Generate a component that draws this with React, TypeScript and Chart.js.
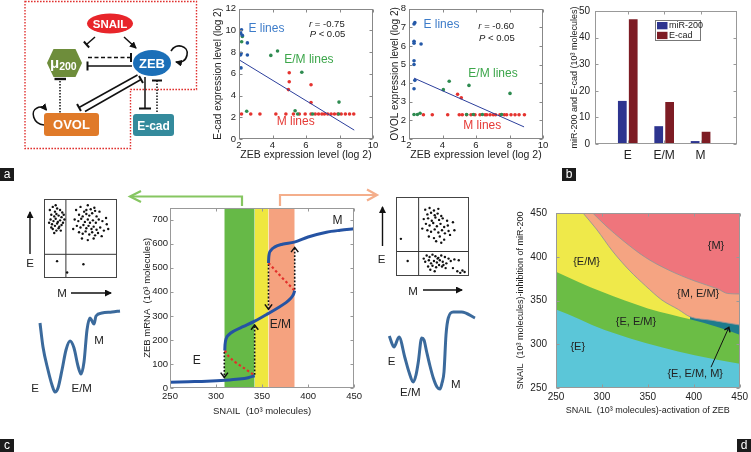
import React, { useEffect, useRef } from 'react';
import { Chart, registerables } from 'chart.js';

Chart.register(...registerables);
const FONT = "'Liberation Sans', Arial, Helvetica, sans-serif";
Chart.defaults.font.family = FONT;
Chart.defaults.color = '#222';

// ---------------- data: panel a (scatter plots) ----------------
const ecadBlue = [[2.15, 10.05], [2.1, 9.75], [2.2, 9.55], [2.5, 8.85], [2.12, 7.9], [2.1, 7.75], [2.5, 7.73], [2.12, 6.55]];
const ecadGreen = [[2.2, 9.45], [2.16, 8.95], [3.9, 7.7], [4.3, 8.1], [5.75, 6.15], [2.46, 2.55], [5.35, 2.6], [7.97, 3.4], [5.5, 2.3], [6.4, 2.3], [7.95, 2.3]];
const ecadRed = [[5.0, 6.1], [5.0, 5.27], [4.95, 4.55], [6.3, 5.0], [6.3, 3.36]];
const ecadRedLineX = [2.15, 2.7, 3.25, 4.2, 4.8, 5.25, 5.6, 5.95, 6.3, 6.55, 6.75, 6.95, 7.1, 7.3, 7.5, 7.7, 7.9, 8.1, 8.35, 8.6, 8.85];
const ecadMLevel = 2.3;
const ecadFit = [[2.06, 7.24], [8.88, 0.82]];
const ecadTicksX = [2, 4, 6, 8, 10];
const ecadTicksY = [0, 2, 4, 6, 8, 10, 12];

const ovolBlue = [[2.35, 7.25], [2.3, 7.18], [2.3, 6.25], [2.3, 6.15], [2.72, 6.1], [2.3, 5.2], [2.3, 5.0], [2.35, 4.15], [2.3, 3.7]];
const ovolGreen = [[2.3, 2.32], [2.5, 2.32], [2.66, 2.38], [4.05, 3.65], [4.4, 4.1], [5.58, 3.88], [8.03, 3.45], [5.44, 2.32], [5.84, 2.32], [6.38, 2.32], [7.53, 2.32]];
const ovolRed = [[4.9, 3.4], [5.12, 3.22]];
const ovolRedLineX = [2.86, 3.39, 4.31, 5.0, 5.18, 5.44, 5.7, 5.94, 6.24, 6.54, 6.64, 6.84, 7.03, 7.17, 7.43, 7.69, 7.83, 8.09, 8.33, 8.57, 8.89];
const ovolMLevel = 2.3;
const ovolFit = [[2.3, 4.27], [8.87, 1.65]];
const ovolTicksX = [2, 4, 6, 8, 10];
const ovolTicksY = [1, 2, 3, 4, 5, 6, 7, 8];

// ---------------- data: panel b (bars) ----------------
const barCats = ['E', 'E/M', 'M'];
const mir200 = [16.2, 6.7, 1.1];
const ecadBar = [46.9, 15.8, 4.6];
const barTicksY = [0, 10, 20, 30, 40, 50];

// ---------------- data: panel c (bifurcation) ----------------
const bandEdges = [309, 342, 357, 385.5];
const branchE = [[250, 24], [270, 26], [290, 28], [310, 32], [325, 37], [335, 43], [342, 51]];
const unstableE = [[309.5, 156], [314, 131], [320, 110], [330, 84], [342, 52]];
const branchEM = [[309.5, 156], [309.8, 180], [311, 205], [314, 222], [320, 238], [330, 256], [342, 278], [355, 306], [367, 333], [376, 355], [381, 372], [384, 388], [385.5, 405]];
const unstableM = [[357, 520], [370, 466], [385.5, 405]];
const branchM = [[357, 520], [357.4, 548], [359.5, 572], [364, 587], [372, 598], [385, 607], [400, 628], [420, 648], [435, 656], [450, 662]];
const jumps = [
  [[342, 55], [342, 262]],
  [[309, 150], [309, 44]],
  [[357, 515], [357, 328]],
  [[385.5, 410], [385.5, 585]],
];
const sTicksX = [250, 300, 350, 400, 450];
const sTicksY = [0, 100, 200, 300, 400, 500, 600, 700];

// cell-population insets (x: M marker, y: E marker, 0-100)
const leftInsetE = [[8, 86], [12, 90], [15, 84], [18, 88], [22, 86], [25, 83], [10, 80], [14, 78], [17, 81], [20, 79], [24, 77], [27, 80], [9, 74], [13, 72], [16, 75], [19, 71], [22, 73], [26, 70], [11, 68], [15, 66], [18, 69], [21, 65], [24, 67], [12, 62], [17, 60], [20, 63], [14, 57], [23, 60], [7, 70], [28, 74], [16, 92], [10, 64]];
const leftInsetEM = [[44, 86], [50, 90], [55, 84], [60, 92], [64, 87], [70, 85], [48, 80], [53, 78], [58, 81], [62, 79], [66, 82], [72, 78], [76, 84], [42, 74], [47, 72], [51, 75], [56, 71], [60, 74], [63, 70], [67, 73], [71, 70], [75, 74], [80, 72], [85, 76], [45, 66], [50, 64], [54, 67], [58, 63], [61, 66], [65, 62], [68, 65], [72, 61], [77, 64], [82, 60], [88, 62], [48, 58], [53, 56], [57, 59], [62, 55], [66, 58], [70, 54], [74, 57], [79, 53], [52, 50], [60, 48], [68, 50], [40, 62], [86, 68], [58, 86], [69, 89]];
const leftInsetOther = [[17.9, 21.3], [54, 17.4], [31.7, 7]];
const rightInsetEM = [[40, 84], [46, 86], [52, 83], [58, 85], [43, 78], [48, 80], [53, 77], [57, 79], [62, 76], [38, 72], [44, 73], [49, 70], [54, 74], [59, 71], [64, 73], [70, 70], [41, 66], [46, 64], [51, 67], [56, 63], [61, 66], [66, 62], [71, 64], [78, 68], [43, 58], [48, 56], [53, 59], [58, 55], [63, 58], [67, 54], [72, 57], [45, 50], [52, 48], [60, 50], [66, 46], [74, 52], [55, 44], [62, 42], [36, 60], [80, 58]];
const rightInsetM = [[38, 22], [42, 26], [46, 24], [50, 27], [54, 25], [58, 23], [62, 26], [67, 24], [72, 22], [40, 18], [45, 20], [48, 16], [52, 19], [56, 17], [60, 20], [64, 18], [69, 16], [75, 19], [80, 21], [44, 12], [50, 13], [55, 11], [59, 14], [63, 12], [68, 10], [47, 8], [53, 6], [78, 10], [84, 6], [88, 4], [91, 7], [94, 5], [57, 22], [65, 14], [86, 20]];
const rightInsetOther = [[6.7, 47], [16, 19]];
const insetDivLeft = 30;
const insetDivRight = 31;

// potential landscapes (x: state, y: potential, 0-100)
const landscapeLeft = [[10, 77], [13, 53], [18, 30], [22, 15], [25, 8], [28, 12], [32, 30], [36, 50], [40, 59], [44, 52], [48, 34], [51, 26], [54, 38], [57, 70], [60, 82], [62, 79], [64, 76], [66, 84], [72, 87], [82, 88], [90, 89]];
const landscapeRight = [[4.3, 64], [9, 53], [14, 63], [20, 42], [24, 28], [28.3, 18], [31, 25], [33.3, 38], [36.7, 62], [39, 60], [41.7, 48], [45, 34], [48.3, 22], [52, 13], [55, 11], [57, 17], [59, 28], [61, 65], [63.3, 82], [68.3, 88], [76.7, 88], [90, 82]];

// ---------------- data: panel d (phase diagram) ----------------
const bndE = [[250, 339.7], [275, 329], [294, 320], [330, 307], [365, 296.5], [401, 287.5], [450, 277.8]];
const bndEEMLeft = [[250, 383], [275, 371], [300, 360], [325, 350], [350, 341], [375, 334], [396, 328.5]];
const bndEEMRight = [[396, 328.5], [425, 320], [450, 311]];
const bndMEM = [[279.4, 450], [294, 431.6], [311.6, 406.4], [329.6, 384.8], [347.5, 366.8], [365.4, 350.5], [383.3, 339.7], [396, 331.4], [419, 327.5], [450, 322]];
const bndM = [[290, 450], [304.5, 435.2], [322.4, 419], [347.5, 399.2], [372.6, 384.8], [401.3, 372.2], [426.3, 363.2], [437, 358], [450, 357.5]];
const tripleArrow = [[418.8, 273.8], [438.2, 319.2]];
const pTicks = [250, 300, 350, 400, 450];

// ---------------- helpers ----------------
const pts = (a: number[][]) => a.map(([x, y]) => ({ x, y }));

type Ann = { text: string; x: number; y: number; color?: string; size?: number; align?: CanvasTextAlign; italicFirst?: boolean };

const annPlugin = (items: Ann[]) => ({
  id: 'ann',
  afterDatasetsDraw(chart: any) {
    const { ctx } = chart;
    const xs = chart.scales.x, ys = chart.scales.y;
    ctx.save();
    ctx.textBaseline = 'middle';
    for (const it of items) {
      const px = xs.getPixelForValue(it.x), py = ys.getPixelForValue(it.y);
      const size = it.size ?? 11;
      ctx.fillStyle = it.color ?? '#222';
      if (it.italicFirst) {
        ctx.textAlign = 'left';
        ctx.font = `italic ${size}px ${FONT}`;
        const f = it.text[0];
        const w0 = ctx.measureText(f).width;
        ctx.fillText(f, px, py);
        ctx.font = `${size}px ${FONT}`;
        ctx.fillText(it.text.slice(1), px + w0, py);
      } else {
        ctx.font = `${size}px ${FONT}`;
        ctx.textAlign = it.align ?? 'left';
        ctx.fillText(it.text, px, py);
      }
    }
    ctx.restore();
  },
});

const boxPlugin = (color: string, tickLen: number) => ({
  id: 'mbox',
  afterDraw(chart: any) {
    const { ctx, chartArea: a } = chart;
    ctx.save();
    ctx.strokeStyle = color;
    ctx.lineWidth = 1;
    const L = Math.round(a.left) + 0.5, T = Math.round(a.top) + 0.5;
    const R = Math.round(a.right) - 0.5, B = Math.round(a.bottom) - 0.5;
    ctx.strokeRect(L, T, R - L, B - T);
    if (tickLen > 0) {
      const xs = chart.scales.x, ys = chart.scales.y;
      ctx.beginPath();
      for (const t of xs.ticks) {
        const p = Math.round(xs.getPixelForValue(t.value)) + 0.5;
        ctx.moveTo(p, B); ctx.lineTo(p, B - tickLen);
        ctx.moveTo(p, T); ctx.lineTo(p, T + tickLen);
      }
      for (const t of ys.ticks) {
        const p = Math.round(ys.getPixelForValue(t.value)) + 0.5;
        ctx.moveTo(L, p); ctx.lineTo(L + tickLen, p);
        ctx.moveTo(R, p); ctx.lineTo(R - tickLen, p);
      }
      ctx.stroke();
    }
    ctx.restore();
  },
});

const chevronPlugin = {
  id: 'chev',
  afterDatasetsDraw(chart: any) {
    const { ctx } = chart;
    chart.data.datasets.forEach((ds: any, i: number) => {
      if (!ds.arrowHead) return;
      const d = chart.getDatasetMeta(i).data;
      const p1 = d[d.length - 2], p2 = d[d.length - 1];
      const ang = Math.atan2(p2.y - p1.y, p2.x - p1.x);
      const L = ds.arrowHead;
      ctx.save();
      ctx.strokeStyle = ds.arrowColor || '#111';
      ctx.lineWidth = 1.5;
      ctx.setLineDash([]);
      ctx.beginPath();
      ctx.moveTo(p2.x - L * Math.cos(ang - 0.65), p2.y - L * Math.sin(ang - 0.65));
      ctx.lineTo(p2.x, p2.y);
      ctx.lineTo(p2.x - L * Math.cos(ang + 0.65), p2.y - L * Math.sin(ang + 0.65));
      ctx.stroke();
      ctx.restore();
    });
  },
};

function axis(o: { min: number; max: number; ticks: number[]; size?: number; pad?: number; title?: string; tsize?: number; tpad?: any; fit: number; horiz: boolean; cb?: (v: number) => string }) {
  return {
    type: 'linear',
    min: o.min,
    max: o.max,
    offset: false,
    ticks: {
      font: { size: o.size ?? 10 }, color: '#222', padding: o.pad ?? 2,
      autoSkip: false, maxRotation: 0, minRotation: 0,
      callback: o.cb ?? ((v: number) => String(v)),
    },
    afterBuildTicks: (s: any) => { s.ticks = o.ticks.map((v) => ({ value: v })); },
    grid: { display: false, drawTicks: false, offset: false },
    border: { display: false },
    title: o.title
      ? { display: true, text: o.title, font: { size: o.tsize ?? 10 }, color: '#222', padding: o.tpad ?? 0 }
      : { display: false },
    afterFit: (s: any) => { if (o.horiz) s.height = o.fit; else s.width = o.fit; },
  };
}

const hidden = (min: number, max: number) => ({ type: 'linear', display: false, min, max, offset: false });

function baseOptions(x: any, y: any, padding: any) {
  return {
    responsive: false,
    maintainAspectRatio: false,
    animation: false,
    devicePixelRatio: 1,
    events: [],
    layout: { padding },
    plugins: { legend: { display: false }, tooltip: { enabled: false } },
    scales: { x, y },
  };
}

const pointSet = (data: number[][], color: string, r = 1.8) => ({
  data: pts(data), showLine: false, pointRadius: r, pointBorderWidth: 0,
  pointBackgroundColor: color, borderColor: color, backgroundColor: color,
});

const lineSet = (data: number[][], color: string, width: number, extra: any = {}) => ({
  data: pts(data), showLine: true, borderColor: color, borderWidth: width, pointRadius: 0,
  fill: false, cubicInterpolationMode: 'monotone', ...extra,
});

// ---------------- chart configs ----------------
const C_BLUE = '#2559a8', C_GREEN = '#2e8b50', C_RED = '#e5332f';

function scatterConfig(blue: number[][], green: number[][], red: number[][], redLineX: number[], mLevel: number, fit: number[][],
  tx: number[], ty: number[], ytitle: string, ytpad: number, anns: Ann[]) {
  return {
    type: 'line',
    data: {
      datasets: [
        lineSet(fit, '#2c3f9c', 1, { cubicInterpolationMode: 'default' }),
        pointSet(blue, C_BLUE),
        pointSet(green, C_GREEN),
        pointSet([...red, ...redLineX.map((x) => [x, mLevel])], C_RED),
      ],
    },
    options: baseOptions(
      axis({ min: tx[0], max: tx[tx.length - 1], ticks: tx, size: 9.5, title: 'ZEB expression level (log 2)', tsize: 10.5, tpad: { top: 0, bottom: 3.5 }, fit: 26, horiz: true, pad: 1 }),
      axis({ min: ty[0], max: ty[ty.length - 1], ticks: ty, size: 9.5, title: ytitle, tpad: { top: ytpad, bottom: 0 }, fit: 34, horiz: false, pad: 3 }),
      { left: 0, top: 6.5, right: 7, bottom: 0 },
    ),
    plugins: [annPlugin(anns), boxPlugin('#888', 3)],
  };
}

const ecadConfig = () => scatterConfig(ecadBlue, ecadGreen, ecadRed, ecadRedLineX, ecadMLevel, ecadFit, ecadTicksX, ecadTicksY,
  'E-cad expression level (log 2)', 7, [
    { text: 'E lines', x: 2.56, y: 10.2, color: '#3d7cc9', size: 12 },
    { text: 'r = -0.75', x: 6.18, y: 10.55, size: 9.5, italicFirst: true },
    { text: 'P < 0.05', x: 6.22, y: 9.6, size: 9.5, italicFirst: true },
    { text: 'E/M lines', x: 4.7, y: 7.3, color: '#3ca64a', size: 12 },
    { text: 'M lines', x: 4.25, y: 1.6, color: '#e53a36', size: 12 },
  ]);

const ovolConfig = () => scatterConfig(ovolBlue, ovolGreen, ovolRed, ovolRedLineX, ovolMLevel, ovolFit, ovolTicksX, ovolTicksY,
  'OVOL expression level (log 2)', 14, [
    { text: 'E lines', x: 2.86, y: 7.12, color: '#3d7cc9', size: 12 },
    { text: 'r = -0.60', x: 6.14, y: 7.07, size: 9.5, italicFirst: true },
    { text: 'P < 0.05', x: 6.18, y: 6.38, size: 9.5, italicFirst: true },
    { text: 'E/M lines', x: 5.54, y: 4.5, color: '#3ca64a', size: 12 },
    { text: 'M lines', x: 5.24, y: 1.7, color: '#e53a36', size: 12 },
  ]);

const barLegendPlugin = {
  id: 'blg',
  afterDraw(chart: any) {
    const { ctx, chartArea: a } = chart;
    const x0 = Math.round(a.left + 60) + 0.5, y0 = Math.round(a.top + 9) + 0.5, w = 45, h = 20;
    ctx.save();
    ctx.fillStyle = '#fff';
    ctx.fillRect(x0, y0, w, h);
    ctx.strokeStyle = '#777';
    ctx.lineWidth = 1;
    ctx.strokeRect(x0, y0, w, h);
    ctx.font = `9px ${FONT}`;
    ctx.textBaseline = 'middle';
    ctx.textAlign = 'left';
    chart.data.datasets.forEach((ds: any, i: number) => {
      const yy = y0 + 1.5 + i * 9.8;
      ctx.fillStyle = ds.backgroundColor;
      ctx.fillRect(x0 + 1.5, yy, 10.5, 7.3);
      ctx.fillStyle = '#222';
      ctx.fillText(ds.label, x0 + 13.5, yy + 3.8);
    });
    ctx.restore();
  },
};

const barConfig = () => ({
  type: 'bar',
  data: {
    datasets: [
      { label: 'miR-200', data: mir200.map((v, i) => ({ x: i + 1, y: v })), backgroundColor: '#2d348f', categoryPercentage: 0.6, barPercentage: 0.8 },
      { label: 'E-cad', data: ecadBar.map((v, i) => ({ x: i + 1, y: v })), backgroundColor: '#7d1c24', categoryPercentage: 0.6, barPercentage: 0.8 },
    ],
  },
  options: baseOptions(
    axis({ min: 0.1, max: 4.0, ticks: [1, 2, 3], size: 12, pad: 4, fit: 26, horiz: true, cb: (v: number) => barCats[v - 1] }),
    axis({ min: 0, max: 50, ticks: barTicksY, size: 10, pad: 5, title: 'miR-200 and E-cad (10³ molecules)', tsize: 9, tpad: { top: 9.5, bottom: 0 }, fit: 35, horiz: false }),
    { left: 0, top: 6, right: 14, bottom: 0 },
  ),
  plugins: [boxPlugin('#999', 3), barLegendPlugin],
});

const sBlue = '#2553a3', sRed = '#e2302a';
const bandColors = ['#66b947', '#efe73f', '#f5a27f'];

const sCurveConfig = () => ({
  type: 'line',
  data: {
    datasets: [
      lineSet(branchE, sBlue, 3),
      lineSet(branchEM, sBlue, 3),
      lineSet(branchM, sBlue, 3),
      lineSet(unstableE, sRed, 2.2, { borderDash: [2.5, 2.5] }),
      lineSet(unstableM, sRed, 2.2, { borderDash: [2.5, 2.5] }),
      ...jumps.map((j) => lineSet(j, '#111', 1.6, { borderDash: [1.8, 1.8], cubicInterpolationMode: 'default', arrowHead: 6 })),
      ...bandColors.map((c, i) => ({
        data: [{ x: bandEdges[i], y: 750 }, { x: bandEdges[i + 1], y: 750 }],
        showLine: true, pointRadius: 0, borderWidth: 0, borderColor: 'transparent',
        backgroundColor: c, fill: 'start',
      })),
    ],
  },
  options: baseOptions(
    axis({ min: 250, max: 450, ticks: sTicksX, size: 9.5, pad: 3, title: 'SNAIL  (10³ molecules)', tsize: 9.5, tpad: { top: 0, bottom: 3 }, fit: 32, horiz: true }),
    axis({ min: 0, max: 750, ticks: sTicksY, size: 9.5, pad: 2, title: 'ZEB mRNA  (10³ molecules)', tsize: 9.5, tpad: { top: 6.3, bottom: 0 }, fit: 35, horiz: false }),
    { left: 0, top: 6, right: 8, bottom: 0 },
  ),
  plugins: [chevronPlugin, annPlugin([
    { text: 'E', x: 279, y: 115, size: 12, align: 'center' },
    { text: 'E/M', x: 370, y: 264, size: 12, align: 'center' },
    { text: 'M', x: 432, y: 696, size: 12, align: 'center' },
  ]), boxPlugin('#999', 3)],
});

const insetConfig = (sets: number[][][], div: number) => ({
  type: 'line',
  data: {
    datasets: [
      ...sets.map((s) => pointSet(s, '#111', 1.2)),
      lineSet([[div, 0], [div, 100]], '#333', 1, { cubicInterpolationMode: 'default' }),
      lineSet([[0, div], [100, div]], '#333', 1, { cubicInterpolationMode: 'default' }),
    ],
  },
  options: baseOptions(hidden(0, 100), hidden(0, 100), 0),
  plugins: [boxPlugin('#444', 0)],
});

const landscapeConfig = (data: number[][], anns: Ann[]) => ({
  type: 'line',
  data: { datasets: [lineSet(data, '#3b6a9c', 3)] },
  options: baseOptions(hidden(0, 100), hidden(0, 100), 0),
  plugins: [annPlugin(anns)],
});

const phaseConfig = () => ({
  type: 'line',
  data: {
    datasets: [
      lineSet(bndM, 'rgba(150,150,150,0.9)', 1, { fill: 'end', backgroundColor: '#ef757c' }),
      lineSet(bndMEM, 'rgba(150,150,150,0.9)', 1, { fill: 'end', backgroundColor: '#f5a482' }),
      lineSet(bndEEMRight, 'transparent', 0, { fill: 'end', backgroundColor: '#1e7b8d' }),
      lineSet(bndEEMLeft, 'transparent', 0, { fill: 'end', backgroundColor: '#efe94a' }),
      lineSet(bndE, 'transparent', 0, { fill: 'end', backgroundColor: '#6bbd45' }),
      lineSet([[250, 250], [450, 250]], 'transparent', 0, { fill: 'end', backgroundColor: '#5bc6d8' }),
      lineSet(tripleArrow, '#111', 1, { cubicInterpolationMode: 'default', arrowHead: 5, order: -1 }),
    ],
  },
  options: baseOptions(
    axis({ min: 250, max: 450, ticks: pTicks, size: 10, pad: 3, title: 'SNAIL  (10³ molecules)-activation of ZEB', tsize: 9, tpad: { top: 0, bottom: 3.6 }, fit: 32, horiz: true }),
    axis({ min: 250, max: 450, ticks: pTicks, size: 10, pad: 9, title: 'SNAIL  (10³ molecules)-inhibition of miR-200', tsize: 9, tpad: { top: 5.5, bottom: 0 }, fit: 46, horiz: false }),
    { left: 0, top: 5, right: 9, bottom: 0 },
  ),
  plugins: [chevronPlugin, annPlugin([
    { text: '{M}', x: 424.2, y: 412.2, align: 'center' },
    { text: '{E/M}', x: 283.3, y: 393.8, align: 'center' },
    { text: '{M, E/M}', x: 404.8, y: 358, align: 'center' },
    { text: '{E, E/M}', x: 337.1, y: 325.7, align: 'center' },
    { text: '{E}', x: 273.7, y: 296.5, align: 'center' },
    { text: '{E, E/M, M}', x: 401.6, y: 266.2, align: 'center' },
  ]), boxPlugin('#999', 3)],
});

// ---------------- components ----------------
function ChartCanvas({ left, top, width, height, make }: { left: number; top: number; width: number; height: number; make: () => any }) {
  const ref = useRef<HTMLCanvasElement>(null);
  useEffect(() => {
    const ch = new Chart(ref.current as HTMLCanvasElement, make());
    return () => ch.destroy();
  }, []);
  return <canvas ref={ref} width={width} height={height} style={{ position: 'absolute', left, top, width, height }} />;
}

function TLine({ x1, y1, x2, y2, bar = 9, dash, w = 1.5, bw = 2 }: any) {
  const dx = x2 - x1, dy = y2 - y1, L = Math.hypot(dx, dy);
  const px = (-dy / L) * bar / 2, py = (dx / L) * bar / 2;
  return (
    <g stroke="#111" fill="none">
      <line x1={x1} y1={y1} x2={x2} y2={y2} strokeWidth={w} strokeDasharray={dash} />
      <line x1={x2 + px} y1={y2 + py} x2={x2 - px} y2={y2 - py} strokeWidth={bw} />
    </g>
  );
}

function PanelLabel({ x, y, t }: { x: number; y: number; t: string }) {
  return (
    <g>
      <rect x={x} y={y} width={14} height={13} fill="#1b1b1b" />
      <text x={x + 7} y={y + 10} fill="#fff" fontSize={12} textAnchor="middle">{t}</text>
    </g>
  );
}

function Overlay() {
  const red = '#e0312f';
  return (
    <svg width={751} height={452} style={{ position: 'absolute', left: 0, top: 0, pointerEvents: 'none' }} fontFamily={FONT}>
      <defs>
        <marker id="ah" markerWidth="7" markerHeight="7" refX="6" refY="3.5" orient="auto" markerUnits="userSpaceOnUse">
          <path d="M0,0 L7,3.5 L0,7 z" fill="#111" />
        </marker>
      </defs>
      {/* network diagram */}
      <path d="M25,1.5 H196.5 V89.5 H130.5 V148.5 H25 Z" fill="none" stroke={red} strokeWidth={1.4} strokeDasharray="1.6 1.4" />
      <TLine x1={95} y1={37} x2={86.5} y2={44.5} bar={8} />
      <line x1={124} y1={37} x2={136} y2={48} stroke="#111" strokeWidth={1.5} markerEnd="url(#ah)" />
      <TLine x1={88} y1={57.5} x2={131} y2={57.5} bar={9} dash="4 2.5" />
      <TLine x1={132} y1={66} x2={87.5} y2={66} bar={9} />
      <path d="M171,51 C176,42 189,46 187,55 C186,61 181,63 176,62" fill="none" stroke="#111" strokeWidth={1.6} markerEnd="url(#ah)" />
      <line x1={60} y1={81} x2={60} y2={113} stroke="#111" strokeWidth={1.5} strokeDasharray="1.5 1.5" />
      <line x1={54.5} y1={79} x2={66} y2={79} stroke="#111" strokeWidth={2.4} />
      <path d="M44,125 C33,124 30,111 37,108 C40,106 44,107 46.5,110" fill="none" stroke="#111" strokeWidth={1.6} markerEnd="url(#ah)" />
      <TLine x1={137.5} y1={75} x2={79} y2={107.5} bar={8} />
      <TLine x1={85} y1={111.5} x2={141} y2={79.5} bar={8} />
      <TLine x1={145} y1={77} x2={145} y2={108.5} bar={12} />
      <TLine x1={157} y1={112} x2={157} y2={80.5} bar={10} dash="1.5 1.5" />
      <ellipse cx={110} cy={23.5} rx={23} ry={10} fill="#e8252a" />
      <text x={110} y={27.5} fill="#fff" fontSize={11.5} fontWeight="bold" textAnchor="middle">SNAIL</text>
      <polygon points="47,63 53.5,49 75.5,49 82,63 75.5,77 53.5,77" fill="#6e8d3b" />
      <text x={50} y={68} fill="#fff" fontWeight="bold">
        <tspan fontSize={15}>μ</tspan>
        <tspan fontSize={10.5} dy={2}>200</tspan>
      </text>
      <ellipse cx={152} cy={63} rx={19} ry={13} fill="#1b6fb8" />
      <text x={152} y={67.5} fill="#fff" fontSize={13} fontWeight="bold" textAnchor="middle">ZEB</text>
      <rect x={44} y={113} width={55} height={23} rx={3} fill="#e07a29" />
      <text x={71.5} y={129} fill="#fff" fontSize={13} fontWeight="bold" textAnchor="middle">OVOL</text>
      <rect x={133} y={114} width={41} height={22} rx={3} fill="#348a9c" />
      <text x={153.5} y={129.5} fill="#fff" fontSize={12} fontWeight="bold" textAnchor="middle">E-cad</text>

      {/* connectors from panel c bands to insets */}
      <polyline points="242,206 242,196.5 131,196.5" fill="none" stroke="#86c661" strokeWidth={2.2} />
      <polyline points="141,191 130,196.5 141,202" fill="none" stroke="#86c661" strokeWidth={2.2} />
      <polyline points="280,206 280,195 376,195" fill="none" stroke="#f4ae8b" strokeWidth={2.2} />
      <polyline points="367,189.5 377,195 367,200.5" fill="none" stroke="#f4ae8b" strokeWidth={2.2} />

      {/* inset axes */}
      <line x1={30} y1={254} x2={30} y2={212} stroke="#111" strokeWidth={1.4} markerEnd="url(#ah)" />
      <text x={30} y={267} fontSize={11.5} textAnchor="middle" fill="#222">E</text>
      <text x={62} y={297} fontSize={11.5} textAnchor="middle" fill="#222">M</text>
      <line x1={71} y1={293} x2={111} y2={293} stroke="#111" strokeWidth={1.4} markerEnd="url(#ah)" />
      <line x1={382.5} y1={246} x2={382.5} y2={207} stroke="#111" strokeWidth={1.4} markerEnd="url(#ah)" />
      <text x={381.5} y={263} fontSize={11.5} textAnchor="middle" fill="#222">E</text>
      <text x={413} y={294.5} fontSize={11.5} textAnchor="middle" fill="#222">M</text>
      <line x1={423} y1={290} x2={462} y2={290} stroke="#111" strokeWidth={1.4} markerEnd="url(#ah)" />

      <PanelLabel x={0} y={168} t="a" />
      <PanelLabel x={562} y={168} t="b" />
      <PanelLabel x={0} y={439} t="c" />
      <PanelLabel x={737} y={439} t="d" />
    </svg>
  );
}

export default function App() {
  return (
    <div style={{ position: 'absolute', left: 0, top: 0, width: 751, height: 452, background: '#fff', overflow: 'hidden' }}>
      <ChartCanvas left={205} top={0} width={175} height={165} make={ecadConfig} />
      <ChartCanvas left={375} top={0} width={175} height={165} make={ovolConfig} />
      <ChartCanvas left={560} top={0} width={191} height={170} make={barConfig} />
      <ChartCanvas left={135} top={200} width={230} height={220} make={sCurveConfig} />
      <ChartCanvas left={510} top={198} width={241} height={222} make={phaseConfig} />
      <ChartCanvas left={40} top={195} width={81} height={87} make={() => insetConfig([leftInsetE, leftInsetEM, leftInsetOther], insetDivLeft)} />
      <ChartCanvas left={392} top={193} width={81} height={87} make={() => insetConfig([rightInsetEM, rightInsetM, rightInsetOther], insetDivRight)} />
      <ChartCanvas left={30} top={300} width={100} height={100} make={() => landscapeConfig(landscapeLeft, [
        { text: 'E', x: 5, y: 11, align: 'center', size: 11.5 },
        { text: 'E/M', x: 51.7, y: 11, align: 'center', size: 11.5 },
        { text: 'M', x: 69, y: 59, align: 'center', size: 11.5 },
      ])} />
      <ChartCanvas left={385} top={300} width={100} height={100} make={() => landscapeConfig(landscapeRight, [
        { text: 'E', x: 6.7, y: 38.5, align: 'center', size: 11.5 },
        { text: 'E/M', x: 25.3, y: 7.5, align: 'center', size: 11.5 },
        { text: 'M', x: 70.8, y: 14.7, align: 'center', size: 11.5 },
      ])} />
      <Overlay />
    </div>
  );
}
